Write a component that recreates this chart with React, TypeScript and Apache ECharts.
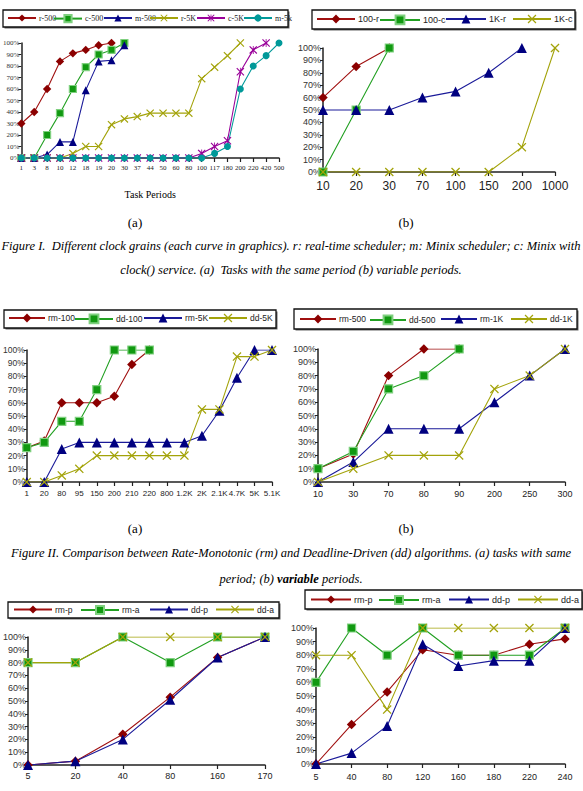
import React, { useEffect, useRef } from "react";
import * as echarts from "echarts";

// ---------- Figure I (a) ----------
const c1Cats = ["1","3","8","10","12","18","19","20","30","37","44","50","60","80","100","117","180","200","220","420","500"];
const c1R500 = [30,40,60,84,91,94,98,100];
const c1C500 = [0,0,20,39,60,79,90,94,100];
const c1M500 = [0,0,3,14,14,59,84,85,98];
const c1R5K = [0,0,0,0,4,10,10,29,34,36,39,39,39,39,69,79,89,100];
const c1C5K = [0,0,0,0,0,0,0,0,0,0,0,0,0,0,4,10,15,75,94,100];
const c1M5K = [0,0,0,0,0,0,0,0,0,0,0,0,0,0,0,4,10,60,80,89,100];

// ---------- Figure I (b) ----------
const c2Cats = ["10","20","30","70","100","150","200","1000"];
const c2R100 = [60,85,100];
const c2C100 = [0,50,100];
const c2R1K = [50,50,50,60,65,80,100];
const c2C1K = [0,0,0,0,0,0,20,100];

// ---------- Figure II (a) ----------
const c3Cats = ["1","20","80","95","150","200","210","220","800","1.2K","2K","2.1K","4.7K","5K","5.1K"];
const c3Rm100 = [26,31,60,60,60,65,89,100];
const c3Dd100 = [26,30,46,46,70,100,100,100];
const c3Rm5K = [0,0,25,30,30,30,30,30,30,30,35,54,79,100,100];
const c3Dd5K = [0,0,5,10,20,20,20,20,20,20,55,55,95,95,100];

// ---------- Figure II (b) ----------
const c4Cats = ["10","30","70","80","90","200","250","300"];
const c4Rm500 = [10,21,80,100,100];
const c4Dd500 = [10,23,70,80,100];
const c4Rm1K = [0,15,40,40,40,60,80,100];
const c4Dd1K = [0,10,20,20,20,70,80,100];

// ---------- Figure III (a) ----------
const c5Cats = ["5","20","40","80","160","170"];
const c5RmP = [0,3,24,53,84,100];
const c5RmA = [80,80,100,80,100,100];
const c5DdP = [0,3,20,51,84,100];
const c5DdA = [80,80,100,100,100,100];

// ---------- Figure III (b) ----------
const c6Cats = ["5","40","80","120","160","180","220","240"];
const c6RmP = [0,29,53,84,80,80,88,92];
const c6RmA = [60,100,80,100,80,80,80,100];
const c6DdP = [0,8,28,88,72,76,76,100];
const c6DdA = [80,80,40,100,100,100,100,100];

const X_PATH = "path://M0,1L1,0L5,4L9,0L10,1L6,5L10,9L9,10L5,6L1,10L0,9L4,5Z";
const STAR_PATH = "path://M0,1L1,0L5,4L9,0L10,1L6,5L10,9L9,10L5,6L1,10L0,9L4,5Z M4.5,0L5.5,0L5.5,10L4.5,10Z";

const STYLES: Record<string, any> = {
  dia: { symbol: "diamond", line: "#a01010", fill: "#8b0000", border: "#8b0000" },
  sq: { symbol: "rect", line: "#22a022", fill: "#119911", border: "#7fd07f" },
  tri: { symbol: "triangle", line: "#1a1a99", fill: "#000080", border: "#000080" },
  x: { symbol: X_PATH, line: "#a3a30a", fill: "#a3a30a", border: "#a3a30a" },
  star: { symbol: STAR_PATH, line: "#990099", fill: "#990099", border: "#990099" },
  circ: { symbol: "circle", line: "#009999", fill: "#009999", border: "#009999" },
};

const SERIF = "'Liberation Serif', 'Times New Roman', serif";
const SANS = "'Liberation Sans', Arial, sans-serif";

function mkSeries(name: string, key: string, data: number[], idx: number, size: number) {
  const s = STYLES[key];
  return {
    type: "line",
    name,
    xAxisIndex: idx,
    yAxisIndex: idx,
    data,
    symbol: s.symbol,
    symbolSize: key === "dia" ? [size * 1.05, size * 1.05] : size,
    showSymbol: true,
    lineStyle: { color: s.line, width: 1.1 },
    itemStyle: { color: s.fill, borderColor: s.border, borderWidth: key === "sq" ? 1.2 : 0 },
    color: s.fill,
  };
}

function mkX(idx: number, cats: string[], font: string, size: number, margin: number, name?: string) {
  return {
    type: "category",
    gridIndex: idx,
    data: cats,
    boundaryGap: false,
    axisLine: { lineStyle: { color: "#222", width: 1.5 } },
    axisTick: { show: true, length: 4, interval: 0, lineStyle: { color: "#222", width: 1.2 } },
    axisLabel: { interval: 0, fontFamily: font, fontSize: size, color: "#222", margin },
    splitLine: { show: false },
    name: name || "",
    nameLocation: "middle",
    nameGap: 31,
    nameTextStyle: { fontFamily: SERIF, fontSize: 10, color: "#000" },
  };
}

function mkY(idx: number, font: string, size: number) {
  return {
    type: "value",
    gridIndex: idx,
    min: 0,
    max: 100,
    interval: 10,
    axisLine: { show: true, lineStyle: { color: "#222", width: 1.5 } },
    axisTick: { show: true, length: 3, lineStyle: { color: "#222" } },
    axisLabel: { formatter: "{value}%", fontFamily: font, fontSize: size, color: "#333", margin: 2 },
    splitLine: { show: false },
  };
}

function mkLegend(name: string, cx: number, cy: number, iw: number, ih: number, font: string, fs: number) {
  return {
    data: [name],
    left: cx - iw / 2,
    top: cy - ih / 2,
    itemWidth: iw,
    itemHeight: ih,
    padding: 0,
    selectedMode: false,
    textStyle: { fontFamily: font, fontSize: fs, color: "#222", padding: [0, 0, 0, -2] },
  };
}

function box(x: number, y: number, w: number, h: number) {
  return [
    { type: "rect", z: 0, shape: { x: x + 1.5, y: y + 1.5, width: w, height: h }, style: { fill: "#666" } },
    { type: "rect", z: 1, shape: { x, y, width: w, height: h }, style: { fill: "#fff", stroke: "#111", lineWidth: 1.3 } },
  ];
}

function txt(text: string, x: number, y: number, italic: boolean, size = 13, rich?: any) {
  const style: any = {
    text,
    x,
    y,
    align: "center",
    verticalAlign: "middle",
    fontFamily: SERIF,
    fontSize: size,
    fontStyle: italic ? "italic" : "normal",
    fill: "#000",
  };
  if (rich) style.rich = rich;
  return { type: "text", z: 5, style };
}

export default function App() {
  const ref = useRef<HTMLDivElement>(null);
  useEffect(() => {
    if (!ref.current) return;
    const chart = echarts.init(ref.current, undefined, { renderer: "svg" });

    const grids = [
      { left: 12, top: 43, width: 267, height: 115 },
      { left: 323, top: 48, width: 232, height: 124 },
      { left: 17, top: 350, width: 255, height: 132 },
      { left: 318, top: 349, width: 247, height: 133 },
      { left: 22, top: 637, width: 243, height: 128 },
      { left: 316, top: 628, width: 249, height: 136 },
    ];

    const xAxis = [
      mkX(0, c1Cats, SERIF, 7, 6, "Task Periods"),
      mkX(1, c2Cats, SANS, 12, 8),
      mkX(2, c3Cats, SANS, 8, 7),
      mkX(3, c4Cats, SANS, 9, 7),
      mkX(4, c5Cats, SANS, 9, 6),
      mkX(5, c6Cats, SANS, 9, 8),
    ];
    const yAxis = [
      mkY(0, SERIF, 7),
      mkY(1, SANS, 9),
      mkY(2, SANS, 8.5),
      mkY(3, SANS, 9),
      mkY(4, SANS, 9),
      mkY(5, SANS, 9),
    ];

    const series = [
      mkSeries("r-500", "dia", c1R500, 0, 8),
      mkSeries("c-500", "sq", c1C500, 0, 7),
      mkSeries("m-500", "tri", c1M500, 0, 8),
      mkSeries("r-5K", "x", c1R5K, 0, 8),
      mkSeries("c-5K", "star", c1C5K, 0, 8),
      mkSeries("m-5k", "circ", c1M5K, 0, 7),

      mkSeries("100-r", "dia", c2R100, 1, 9),
      mkSeries("100-c", "sq", c2C100, 1, 8),
      mkSeries("1K-r", "tri", c2R1K, 1, 10),
      mkSeries("1K-c", "x", c2C1K, 1, 9),

      mkSeries("rm-100", "dia", c3Rm100, 2, 9),
      mkSeries("dd-100", "sq", c3Dd100, 2, 8),
      mkSeries("rm-5K", "tri", c3Rm5K, 2, 10),
      mkSeries("dd-5K", "x", c3Dd5K, 2, 9),

      mkSeries("rm-500", "dia", c4Rm500, 3, 9),
      mkSeries("dd-500", "sq", c4Dd500, 3, 8),
      mkSeries("rm-1K", "tri", c4Rm1K, 3, 10),
      mkSeries("dd-1K", "x", c4Dd1K, 3, 9),

      mkSeries("rm-p", "dia", c5RmP, 4, 9),
      mkSeries("rm-a", "sq", c5RmA, 4, 8),
      mkSeries("dd-p", "tri", c5DdP, 4, 10),
      mkSeries("dd-a", "x", c5DdA, 4, 9),

      mkSeries("rm-p", "dia", c6RmP, 5, 9),
      mkSeries("rm-a", "sq", c6RmA, 5, 8),
      mkSeries("dd-p", "tri", c6DdP, 5, 10),
      mkSeries("dd-a", "x", c6DdA, 5, 9),
    ];

    const legend = [
      mkLegend("r-500", 21, 18.5, 28, 9, SERIF, 8),
      mkLegend("c-500", 67, 18.5, 28, 9, SERIF, 8),
      mkLegend("m-500", 117, 18.5, 28, 9, SERIF, 8),
      mkLegend("r-5K", 163, 18.5, 28, 9, SERIF, 8),
      mkLegend("c-5K", 210, 18.5, 28, 9, SERIF, 8),
      mkLegend("m-5k", 257, 18.5, 28, 9, SERIF, 8),

      mkLegend("100-r", 335, 20, 38, 11, SANS, 9),
      mkLegend("100-c", 399, 20, 40, 11, SANS, 9),
      mkLegend("1K-r", 465, 20, 40, 11, SANS, 9),
      mkLegend("1K-c", 531, 20, 38, 11, SANS, 9),

      mkLegend("rm-100", 26, 319, 36, 11, SANS, 8.5),
      mkLegend("dd-100", 93, 319, 38, 11, SANS, 8.5),
      mkLegend("rm-5K", 162, 319, 38, 11, SANS, 8.5),
      mkLegend("dd-5K", 227, 319, 38, 11, SANS, 8.5),

      mkLegend("rm-500", 317, 320, 36, 11, SANS, 8.5),
      mkLegend("dd-500", 387, 320, 36, 11, SANS, 8.5),
      mkLegend("rm-1K", 458, 320, 36, 11, SANS, 8.5),
      mkLegend("dd-1K", 528, 320, 36, 11, SANS, 8.5),

      mkLegend("rm-p", 32, 610, 38, 10, SANS, 8.5),
      mkLegend("rm-a", 99, 610, 38, 10, SANS, 8.5),
      mkLegend("dd-p", 168, 610, 38, 10, SANS, 8.5),
      mkLegend("dd-a", 234, 610, 38, 10, SANS, 8.5),

      mkLegend("rm-p", 330, 600, 40, 10, SANS, 9),
      mkLegend("rm-a", 398, 600, 40, 10, SANS, 9),
      mkLegend("dd-p", 468, 600, 40, 10, SANS, 9),
      mkLegend("dd-a", 537, 600, 40, 10, SANS, 9),
    ];

    const graphic = [
      ...box(3, 10, 285, 17),
      ...box(312, 10, 263, 19),
      ...box(4, 310, 272, 18),
      ...box(294, 309, 283, 20),
      ...box(8, 602, 271, 16),
      ...box(305, 590, 277, 19),
      txt("(a)", 135, 222, false),
      txt("(b)", 406, 222, false),
      txt("Figure I.  Different clock grains (each curve in graphics). r: real-time scheduler; m: Minix scheduler; c: Minix with", 291, 246, true, 12.5),
      txt("clock() service. (a)  Tasks with the same period (b) variable periods.", 291, 270, true, 12.5),
      txt("(a)", 135, 528, false),
      txt("(b)", 406, 528, false),
      txt("Figure II. Comparison between Rate-Monotonic (rm) and Deadline-Driven (dd) algorithms. (a) tasks with same", 291, 553, true, 12.5),
      txt("period; (b) {b|variable} periods.", 291, 579, true, 12.5, {
        b: { fontFamily: SERIF, fontSize: 12.5, fontStyle: "italic", fontWeight: "bold", fill: "#000" },
      }),
    ];

    chart.setOption({
      animation: false,
      backgroundColor: "#fff",
      grid: grids,
      xAxis,
      yAxis,
      series,
      legend,
      graphic,
    });
    return () => chart.dispose();
  }, []);

  return (
    <div
      ref={ref}
      style={{ position: "absolute", left: 0, top: 0, width: 583, height: 791 }}
    />
  );
}
